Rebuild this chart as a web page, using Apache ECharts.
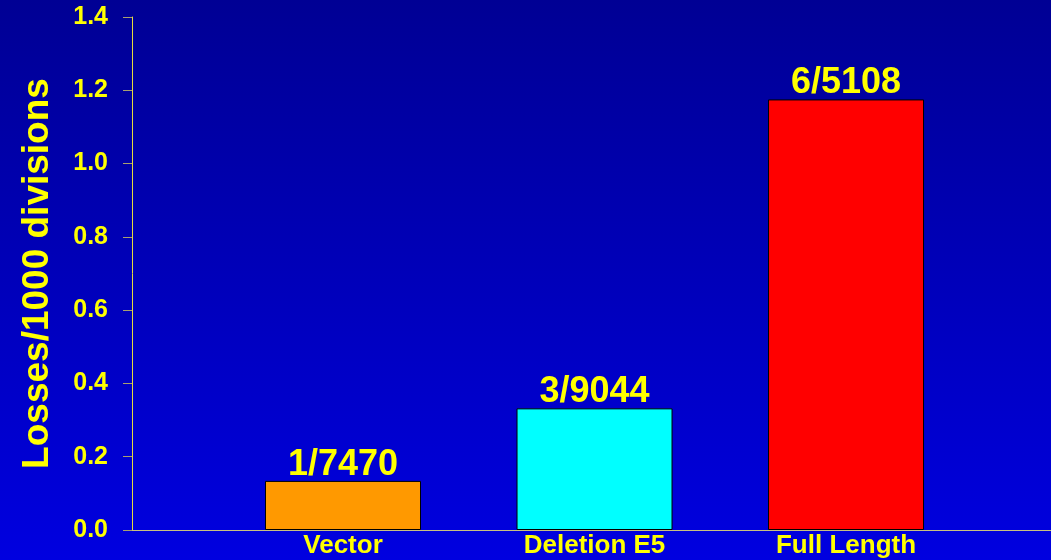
<!DOCTYPE html>
<html>
<head>
<meta charset="utf-8">
<script src="https://cdn.jsdelivr.net/npm/echarts@6/dist/echarts.min.js"></script>
<style>
  html, body { margin: 0; padding: 0; }
  #chart { width: 1051px; height: 560px; }
</style>
</head>
<body>
<div id="chart"></div>
<script>
var categories = ['Vector', 'Deletion E5', 'Full Length'];
var losses = [0.134, 0.332, 1.175];
var counts = ['1/7470', '3/9044', '6/5108'];
var barColors = ['#ff9900', '#00ffff', '#ff0000'];
var yTicks = [0, 0.2, 0.4, 0.6, 0.8, 1.0, 1.2, 1.4];

var yellow = '#ffff00';
var font = 'Liberation Sans, Arial, sans-serif';

var myChart = echarts.init(document.getElementById('chart'));

var option = {
  backgroundColor: {
    type: 'linear', x: 0, y: 0, x2: 0, y2: 1,
    colorStops: [
      { offset: 0, color: '#000094' },
      { offset: 1, color: '#0000e0' }
    ]
  },
  grid: { left: 132, right: 0, top: 17, bottom: 30 },
  xAxis: [
    {
      type: 'value',
      min: 0.161,
      max: 3.815,
      splitLine: { show: false },
      axisLine: { show: true, onZero: false, lineStyle: { color: '#e6dc3c', width: 1 } },
      axisTick: { show: false },
      axisLabel: {
        customValues: [1, 2, 3],
        margin: 3,
        color: yellow,
        fontFamily: font,
        fontWeight: 'bold',
        fontSize: 26,
        formatter: function (v) { return categories[Math.round(v) - 1] || ''; }
      }
    },
    {
      // plain top border line
      type: 'value',
      position: 'top',
      min: 0.161,
      max: 3.815,
      splitLine: { show: false },
      axisLine: { show: true, lineStyle: { color: '#c8c080', width: 1 } },
      axisTick: { show: false },
      axisLabel: { show: false }
    }
  ],
  yAxis: {
    type: 'value',
    min: yTicks[0],
    max: yTicks[yTicks.length - 1],
    interval: 0.2,
    name: 'Losses/1000 divisions',
    nameLocation: 'middle',
    nameGap: 76,
    nameTextStyle: {
      color: yellow,
      fontFamily: font,
      fontWeight: 'bold',
      fontSize: 37
    },
    splitLine: { show: false },
    axisLine: { show: true, lineStyle: { color: '#e6dc3c', width: 1 } },
    axisTick: { show: true, inside: false, length: 9, lineStyle: { color: '#a8a070' } },
    axisLabel: {
      margin: 24,
      color: yellow,
      fontFamily: font,
      fontWeight: 'bold',
      fontSize: 25,
      formatter: function (v) { return v.toFixed(1); }
    }
  },
  series: [
    {
      type: 'bar',
      xAxisIndex: 0,
      barWidth: 156,
      data: losses.map(function (v, i) {
        return {
          value: [i + 1, v],
          itemStyle: { color: barColors[i] }
        };
      }),
      itemStyle: { borderColor: '#000000', borderWidth: 1 },
      label: {
        show: true,
        position: 'top',
        distance: -2,
        color: yellow,
        fontFamily: font,
        fontWeight: 'bold',
        fontSize: 36,
        formatter: function (p) { return counts[p.dataIndex]; }
      }
    }
  ]
};

myChart.setOption(option);
</script>
</body>
</html>
